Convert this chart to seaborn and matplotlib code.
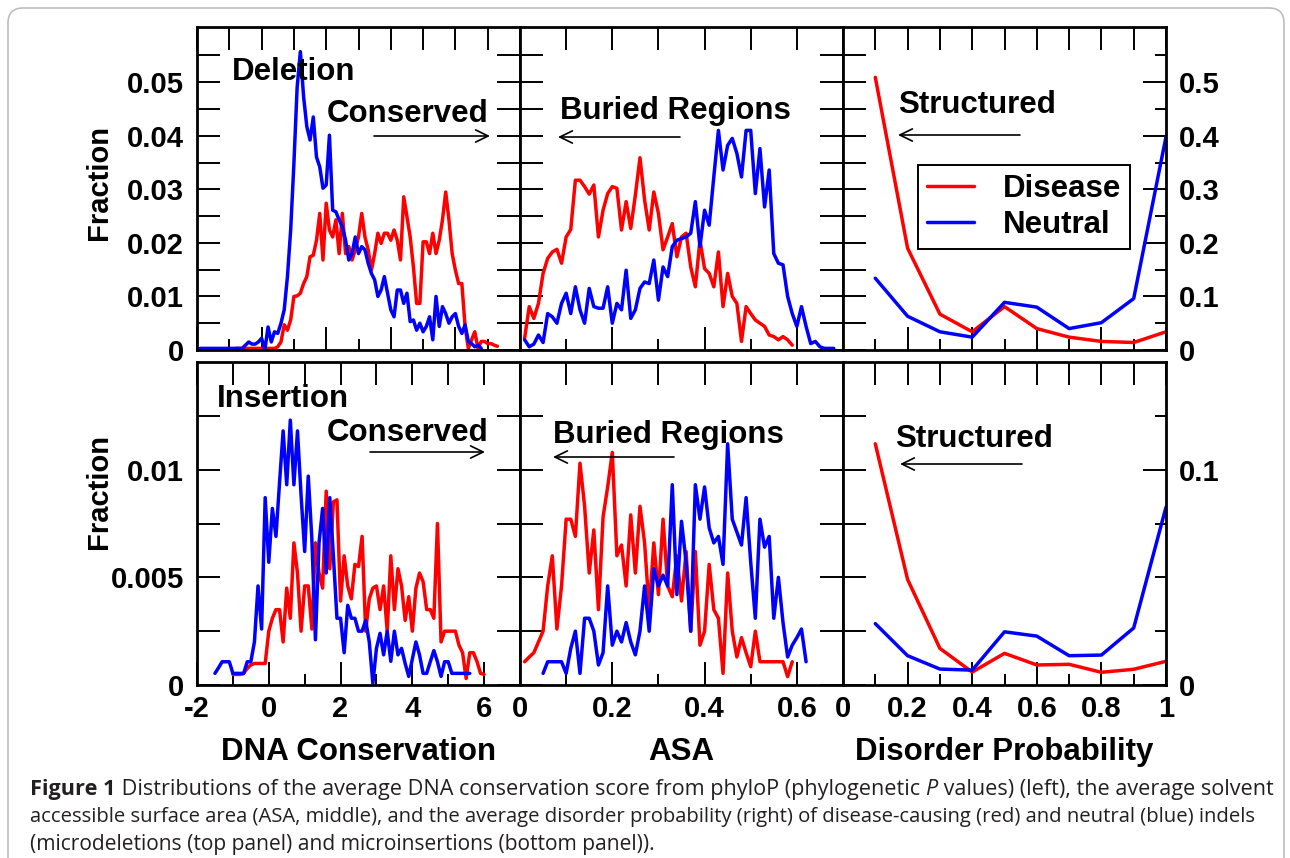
import numpy as np
import matplotlib
matplotlib.use("Agg")
import matplotlib.pyplot as plt
import seaborn as sns
from matplotlib.patches import FancyBboxPatch, FancyArrowPatch
from matplotlib.ticker import FixedLocator, FixedFormatter
from matplotlib.lines import Line2D

# ---------------- data (fractions in per-mille unless noted) ----------------
# Deletion, DNA conservation (bins of 0.1)
del_cons_blue_start = -1.9
del_cons_blue = [0.3, 0.3, 0.3, 0.3, 0.3, 0.3, 0.3, 0.3, 0.3, 0.3, 0.3, 0.3, 0.3,
                 0.3, 0.9, 1.5, 1.1, 1.1, 1.5,
                 2.2, 0.0, 4.3, 1.5, 3.4, 3.1, 5.0, 7.5, 13.7, 22.4,
                 34.8, 49.0, 55.7, 47.3, 41.7, 39.2, 43.5, 36.0, 34.2, 30.2,
                 30.8, 40.1, 26.1, 25.8, 24.3, 23.0, 20.5, 16.8, 18.0, 21.1,
                 18.0, 19.3, 18.7, 16.2, 14.3, 13.1, 10.0, 11.2, 13.7, 10.6,
                 7.5, 6.2, 11.2, 11.2, 8.7, 10.6, 5.3, 5.6, 3.7, 5.0,
                 3.4, 4.4, 6.2, 1.9, 10.0, 4.4, 8.1, 6.8, 5.0, 6.2,
                 6.8, 4.4, 3.1, 4.7, 1.6, 1.2, 0.6, 0.9, 0.3]
del_cons_red_start = -0.8
del_cons_red = [0.3, 0.3, 0.3, 0.3, 0.3, 0.3, 0.3, 0.3, 0.3, 0.3, 0.3, 0.3, 0.3,
                0.6, 1.5, 4.7, 3.7, 5.6,
                10.0, 10.1, 10.6, 12.4, 13.7, 17.4, 17.7, 20.5, 25.5, 16.8,
                27.4, 22.4, 21.1, 24.3, 18.0, 25.5, 18.0, 19.3, 16.8, 18.7,
                21.1, 25.5, 21.1, 18.7, 14.9, 18.0, 21.8, 19.9, 21.8, 21.8,
                20.5, 22.4, 20.5, 16.8, 28.6, 24.9, 21.1, 15.5, 8.7, 8.7,
                20.2, 20.2, 18.0, 21.8, 18.0, 20.5, 24.3, 29.5, 24.3, 18.0,
                14.9, 12.4, 12.4, 4.4, 0.3, 1.9, 3.4, 0.3, 1.6, 1.6,
                1.2, 1.2, 0.9, 0.7]

# Deletion, ASA (bins of 0.01)
del_asa_red_start = 0.01
del_asa_red = [2.2, 8.1, 5.9, 8.7, 14.3, 17.1, 18.3, 18.8, 16.2, 21.1,
               22.5, 31.7, 31.7, 30.5, 29.1, 30.8, 21.1, 26.1, 29.2, 30.5,
               30.2, 22.4, 27.7, 22.7, 28.9, 35.9, 28.0, 22.4, 29.5, 25.5,
               18.7, 21.1, 23.6, 17.4, 21.1, 21.8, 15.5, 11.8, 20.5, 15.2,
               14.3, 11.8, 18.3, 8.1, 14.3, 10.0, 8.7, 1.6, 8.1, 6.8,
               5.6, 5.0, 4.4, 2.8, 2.5, 1.9, 2.5, 1.9, 0.9]
del_asa_blue_start = 0.01
del_asa_blue = [1.9, 0.6, 1.1, 2.8, 1.4, 6.8, 6.2, 5.0, 8.7, 10.6,
                6.8, 11.8, 7.5, 5.0, 11.5, 8.1, 7.8, 7.8, 11.8, 5.0,
                8.7, 7.5, 14.9, 5.9, 7.5, 11.5, 12.7, 12.4, 16.8, 9.3,
                15.5, 13.7, 19.3, 20.5, 20.8, 21.1, 21.8, 27.7, 19.3, 26.1,
                23.3, 32.3, 41.0, 33.6, 38.2, 39.5, 36.7, 32.3, 41.0, 41.0,
                29.2, 37.6, 26.7, 33.6, 18.0, 16.2, 15.9, 10.0, 6.8, 4.4,
                8.1, 4.4, 1.2, 1.6, 0.6, 0.3, 0.3, 0.3]

# Deletion, disorder probability (fractions)
disorder_x = [0.1, 0.2, 0.3, 0.4, 0.5, 0.6, 0.7, 0.8, 0.9, 1.0]
del_dis_red = [0.509, 0.190, 0.067, 0.034, 0.081, 0.040, 0.024, 0.016, 0.014, 0.034]
del_dis_blue = [0.134, 0.063, 0.034, 0.024, 0.089, 0.080, 0.040, 0.051, 0.096, 0.398]

# Insertion, DNA conservation (bins of 0.1)
ins_cons_blue_start = -1.5
ins_cons_blue = [0.54, 0.8, 1.08, 1.08, 1.08, 0.54,
                 0.54, 0.54, 0.54, 1.08, 1.08, 2.0, 4.6, 2.6, 8.7,
                 5.7, 8.2, 6.9, 9.4, 11.8, 9.3, 12.3, 9.3, 11.8, 8.8,
                 6.2, 9.7, 6.8, 2.1, 6.6, 8.2, 5.2, 8.7, 6.0, 3.1,
                 3.1, 1.5, 3.7, 3.1, 3.1, 2.5, 2.5, 3.0, 2.0, 0.08,
                 1.7, 2.4, 1.4, 2.5, 1.1, 2.5, 1.4, 1.7, 1.0, 0.4,
                 1.2, 2.0, 1.4, 0.54, 0.54, 1.08, 1.6, 1.08, 0.4, 1.08,
                 1.08, 0.54, 0.54, 0.54, 0.54, 0.54, 0.54]
ins_cons_red_start = -1.0
ins_cons_red = [0.49, 0.49, 0.49, 0.54, 0.77, 0.93, 1.0, 1.0, 1.0, 1.0,
                2.5, 3.1, 3.5, 3.5, 2.0, 4.5, 3.1, 6.6, 5.2, 2.5,
                4.6, 4.6, 2.6, 6.6, 5.2, 4.5, 9.0, 5.4, 8.5, 8.6,
                3.9, 6.0, 4.6, 4.0, 5.6, 5.5, 6.9, 2.5, 4.0, 4.5,
                4.6, 3.5, 4.6, 2.5, 6.0, 3.5, 5.4, 4.6, 3.0, 4.1,
                2.5, 4.5, 5.2, 4.8, 3.5, 3.5, 3.1, 7.5, 2.0, 2.5,
                2.5, 2.5, 2.5, 1.85, 1.5, 0.3, 1.5, 1.5, 1.1, 0.54, 0.49]

# Insertion, ASA (bins of 0.01)
ins_asa_red_start = 0.01
ins_asa_red = [1.08, 1.3, 1.5, 2.0, 2.5, 4.6, 6.0, 2.6, 4.6, 7.7,
               7.7, 6.9, 10.3, 8.3, 5.2, 7.2, 3.5, 7.8, 9.2, 10.8,
               6.0, 6.5, 4.6, 7.9, 5.2, 8.3, 6.6, 3.5, 6.6, 4.2,
               7.7, 4.6, 4.1, 6.0, 3.9, 6.2, 2.5, 6.2, 1.85, 2.5,
               5.6, 3.5, 3.1, 0.54, 5.2, 2.5, 1.3, 2.2, 1.5, 0.85,
               2.5, 1.08, 1.08, 1.08, 1.08, 1.08, 1.08, 0.39, 1.08]
ins_asa_blue_start = 0.05
ins_asa_blue = [0.54, 1.08, 1.08, 1.08, 1.08, 0.54,
                1.7, 2.5, 0.54, 3.1, 3.1, 2.5, 0.93, 1.5, 4.6, 1.85,
                2.5, 2.0, 2.9, 2.0, 1.4, 2.5, 4.6, 2.5, 5.4, 4.6,
                5.1, 4.6, 9.3, 4.2, 7.6, 5.7, 2.5, 9.3, 7.7, 9.2,
                7.3, 6.6, 6.9, 5.6, 11.2, 7.7, 7.1, 6.5, 8.7, 5.7,
                3.1, 7.7, 6.4, 6.9, 3.1, 5.0, 2.9, 1.3, 1.85, 2.2,
                2.6, 1.08]

# Insertion, disorder probability (fractions)
ins_dis_red = [0.112, 0.049, 0.017, 0.006, 0.0147, 0.0093, 0.0096, 0.0059, 0.0073, 0.011]
ins_dis_blue = [0.0285, 0.0136, 0.0074, 0.0069, 0.0247, 0.0227, 0.0136, 0.0139, 0.0265, 0.0826]

legend_labels = ["Disease", "Neutral"]
caption_lines = [
    [("Figure 1", "bold", "normal"),
     (" Distributions of the average DNA conservation score from phyloP (phylogenetic ", "normal", "normal"),
     ("P", "normal", "italic"),
     (" values) (left), the average solvent", "normal", "normal")],
    [("accessible surface area (ASA, middle), and the average disorder probability (right) of "
      "disease-causing (red) and neutral (blue) indels", "normal", "normal")],
    [("(microdeletions (top panel) and microinsertions (bottom panel)).", "normal", "normal")],
]


def bins(start, step, vals):
    return np.round(start + step * np.arange(len(vals)), 3)


def pm(vals):
    return np.asarray(vals) / 1000.0


# ---------------- style ----------------
sns.set_theme(style="white")
plt.rcParams["font.family"] = ["Liberation Sans", "DejaVu Sans"]
plt.rcParams["text.color"] = "black"
plt.rcParams["axes.labelcolor"] = "black"
plt.rcParams["xtick.color"] = "black"
plt.rcParams["ytick.color"] = "black"

W, H = 1290, 858
fig = plt.figure(figsize=(W / 100, H / 100), dpi=100)
fig.patch.set_facecolor("white")

RED = "#ff0000"
BLUE = "#0000ff"
LW = 2.5
TICK_FS = 21
LAB_FS = 22.5
ANN_FS = 22.5


def ax_at(x0, y0, x1, y1):
    return fig.add_axes([x0 / W, 1 - y1 / H, (x1 - x0) / W, (y1 - y0) / H])


cols = [(197, 520), (520, 843), (843, 1166)]
rows = [(27, 350), (362, 685)]

panels = [
    dict(r=0, c=0, series=[(bins(del_cons_red_start, 0.1, del_cons_red), pm(del_cons_red), RED),
                           (bins(del_cons_blue_start, 0.1, del_cons_blue), pm(del_cons_blue), BLUE)],
         xlim=(-2, 8), xmaj=[-2, 0, 2, 4, 6, 8], xmin=[-1, 1, 3, 5, 7], xlab=None,
         ylim=(0, 0.0603), ymaj=[0, 0.01, 0.02, 0.03, 0.04, 0.05],
         ymin=[0.005, 0.015, 0.025, 0.035, 0.045, 0.055],
         ylab=["0", "0.01", "0.02", "0.03", "0.04", "0.05"], side="left"),
    dict(r=0, c=1, series=[(bins(del_asa_red_start, 0.01, del_asa_red), pm(del_asa_red), RED),
                           (bins(del_asa_blue_start, 0.01, del_asa_blue), pm(del_asa_blue), BLUE)],
         xlim=(0, 0.7), xmaj=[0, 0.2, 0.4, 0.6], xmin=[0.1, 0.3, 0.5], xlab=None,
         ylim=(0, 0.0603), ymaj=[0, 0.01, 0.02, 0.03, 0.04, 0.05],
         ymin=[0.005, 0.015, 0.025, 0.035, 0.045, 0.055], ylab=None, side=None),
    dict(r=0, c=2, series=[(np.array(disorder_x), np.array(del_dis_red), RED),
                           (np.array(disorder_x), np.array(del_dis_blue), BLUE)],
         xlim=(0, 1), xmaj=[0, 0.2, 0.4, 0.6, 0.8, 1.0], xmin=[0.1, 0.3, 0.5, 0.7, 0.9], xlab=None,
         ylim=(0, 0.603), ymaj=[0, 0.1, 0.2, 0.3, 0.4, 0.5],
         ymin=[0.05, 0.15, 0.25, 0.35, 0.45, 0.55],
         ylab=["0", "0.1", "0.2", "0.3", "0.4", "0.5"], side="right"),
    dict(r=1, c=0, series=[(bins(ins_cons_red_start, 0.1, ins_cons_red), pm(ins_cons_red), RED),
                           (bins(ins_cons_blue_start, 0.1, ins_cons_blue), pm(ins_cons_blue), BLUE)],
         xlim=(-2, 7), xmaj=[-2, 0, 2, 4, 6], xmin=[-1, 1, 3, 5],
         xlab=["-2", "0", "2", "4", "6"],
         ylim=(0, 0.015), ymaj=[0, 0.005, 0.01], ymin=[0.0025, 0.0075, 0.0125],
         ylab=["0", "0.005", "0.01"], side="left"),
    dict(r=1, c=1, series=[(bins(ins_asa_red_start, 0.01, ins_asa_red), pm(ins_asa_red), RED),
                           (bins(ins_asa_blue_start, 0.01, ins_asa_blue), pm(ins_asa_blue), BLUE)],
         xlim=(0, 0.7), xmaj=[0, 0.2, 0.4, 0.6], xmin=[0.1, 0.3, 0.5],
         xlab=["0", "0.2", "0.4", "0.6"],
         ylim=(0, 0.015), ymaj=[0, 0.005, 0.01], ymin=[0.0025, 0.0075, 0.0125],
         ylab=None, side=None),
    dict(r=1, c=2, series=[(np.array(disorder_x), np.array(ins_dis_red), RED),
                           (np.array(disorder_x), np.array(ins_dis_blue), BLUE)],
         xlim=(0, 1), xmaj=[0, 0.2, 0.4, 0.6, 0.8, 1.0], xmin=[0.1, 0.3, 0.5, 0.7, 0.9],
         xlab=["0", "0.2", "0.4", "0.6", "0.8", "1"],
         ylim=(0, 0.15), ymaj=[0, 0.1], ymin=[0.025, 0.05, 0.075, 0.125],
         ylab=["0", "0.1"], side="right"),
]

axes = {}
for p in panels:
    x0, x1 = cols[p["c"]]
    y0, y1 = rows[p["r"]]
    ax = ax_at(x0, y0, x1, y1)
    axes[(p["r"], p["c"])] = ax
    for xs, ys, col in p["series"]:
        sns.lineplot(x=xs, y=ys, ax=ax, color=col, linewidth=LW, legend=False,
                     estimator=None, sort=False)
    ax.set_xlim(*p["xlim"])
    ax.set_ylim(*p["ylim"])
    ax.set_xlabel("")
    ax.set_ylabel("")
    ax.xaxis.set_major_locator(FixedLocator(p["xmaj"]))
    ax.xaxis.set_minor_locator(FixedLocator(p["xmin"]))
    ax.yaxis.set_major_locator(FixedLocator(p["ymaj"]))
    ax.yaxis.set_minor_locator(FixedLocator(p["ymin"]))
    if p["xlab"] is not None:
        ax.xaxis.set_major_formatter(FixedFormatter(p["xlab"]))
    if p["ylab"] is not None:
        ax.yaxis.set_major_formatter(FixedFormatter(p["ylab"]))
    for sp in ax.spines.values():
        sp.set_visible(True)
        sp.set_color("black")
        sp.set_linewidth(2.0)
    ax.tick_params(which="both", direction="in", top=True, bottom=True, left=True, right=True,
                   width=1.4, color="black")
    ax.tick_params(which="major", length=16.5)
    ax.tick_params(which="minor", length=8)
    ax.tick_params(axis="x", which="major", labelbottom=p["xlab"] is not None, labeltop=False,
                   pad=7, labelsize=TICK_FS)
    ax.tick_params(axis="y", which="major", labelleft=p["side"] == "left",
                   labelright=p["side"] == "right", pad=9.5, labelsize=TICK_FS)
    for lab in ax.get_xticklabels() + ax.get_yticklabels():
        lab.set_fontweight("bold")
    # top and left (and inner right) minor ticks are drawn at full length
    for t in ax.xaxis.get_minor_ticks():
        t.tick2line.set_markersize(16.5)
    for t in ax.yaxis.get_minor_ticks():
        t.tick1line.set_markersize(16.5)
        if p["c"] != 2:
            t.tick2line.set_markersize(16.5)
    ax.set_facecolor("white")

# axis labels
for r, yc in [(0, 0.52), (1, 0.60)]:
    ax = axes[(r, 0)]
    ax.set_ylabel("Fraction", fontsize=21, fontweight="bold")
    ax.yaxis.set_label_coords(-0.26, yc)
for c, txt in enumerate(["DNA Conservation", "ASA", "Disorder Probability"]):
    ax = axes[(1, c)]
    ax.set_xlabel(txt, fontsize=LAB_FS, fontweight="bold")
    ax.xaxis.set_label_coords(0.5, -0.16)

# legend in top-right panel
axr = axes[(0, 2)]
handles = [Line2D([], [], color=RED, lw=LW), Line2D([], [], color=BLUE, lw=LW)]
leg = axr.legend(handles, legend_labels, loc="upper left", bbox_to_anchor=(0.232, 0.573),
                 frameon=True, fancybox=False, edgecolor="black", framealpha=1,
                 prop=dict(weight="bold", size=ANN_FS), handlelength=1.5, handletextpad=0.95,
                 borderpad=0.28, labelspacing=0.2, borderaxespad=0)
leg.get_frame().set_linewidth(1.4)


# annotations (pixel positions of the reference layout)
def ftext(xp, yp, s, **kw):
    fig.text(xp / W, 1 - yp / H, s, ha="left", va="baseline", fontsize=ANN_FS,
             fontweight="bold", color="black", **kw)


def farrow(xa, xb, yp):
    arr = FancyArrowPatch((xa / W, 1 - yp / H), (xb / W, 1 - yp / H), transform=fig.transFigure,
                          arrowstyle="->,head_length=0.45,head_width=0.22", mutation_scale=20,
                          lw=1.2, color="black", shrinkA=0, shrinkB=0)
    fig.add_artist(arr)


ftext(232, 80, "Deletion")
ftext(327, 122, "Conserved")
farrow(374, 490, 136)
ftext(560, 119, "Buried Regions")
farrow(680, 558, 137)
ftext(898, 113, "Structured")
farrow(1020, 898, 135)

ftext(217, 407, "Insertion")
ftext(327, 441, "Conserved")
farrow(370, 485, 452)
ftext(553, 443, "Buried Regions")
farrow(674, 553, 457)
ftext(895, 447, "Structured")
farrow(1022, 900, 464)

# outer rounded frame
frame = FancyBboxPatch((0.08, -0.5), 12.76, 9.0, boxstyle="round,pad=0,rounding_size=0.15",
                       transform=fig.dpi_scale_trans, fill=False, edgecolor="#bdbdbd", lw=1.2)
fig.add_artist(frame)

# caption
bg = fig.add_axes([0, 0, 1, 1])
bg.set_axis_off()
bg.set_zorder(-1)
cap_family = ["Open Sans", "DejaVu Sans"]
cap_color = "#231f20"
cap_fs = 13.0
baselines = [795, 822, 850]
line_widths = [1236.0, 1222.0, None]   # reference widths of the caption lines (px)
cap_lines_art = []
for line, yb in zip(caption_lines, baselines):
    prev = None
    arts = []
    for txt, wgt, sty in line:
        if prev is None:
            t = bg.text(30 / W, 1 - yb / H, txt, transform=bg.transAxes, ha="left",
                        va="baseline", fontsize=cap_fs, fontweight=wgt, fontstyle=sty,
                        family=cap_family, color=cap_color)
        else:
            t = bg.annotate(txt, xy=(1, 0), xycoords=prev, ha="left", va="bottom",
                            fontsize=cap_fs, fontweight=wgt, fontstyle=sty,
                            family=cap_family, color=cap_color)
        arts.append(t)
        prev = t
    cap_lines_art.append(arts)

# fit the caption lines to their reference widths
fig.canvas.draw()
r = fig.canvas.get_renderer()
sizes = []
for arts, target in zip(cap_lines_art, line_widths):
    if target is None:
        continue
    w = arts[-1].get_window_extent(r).x1 - arts[0].get_window_extent(r).x0
    s = cap_fs * target / w
    sizes.append(s)
    for t in arts:
        t.set_fontsize(s)
for t in cap_lines_art[2]:
    t.set_fontsize(float(np.mean(sizes)))

fig.savefig("out.png", dpi=100, facecolor="white")
